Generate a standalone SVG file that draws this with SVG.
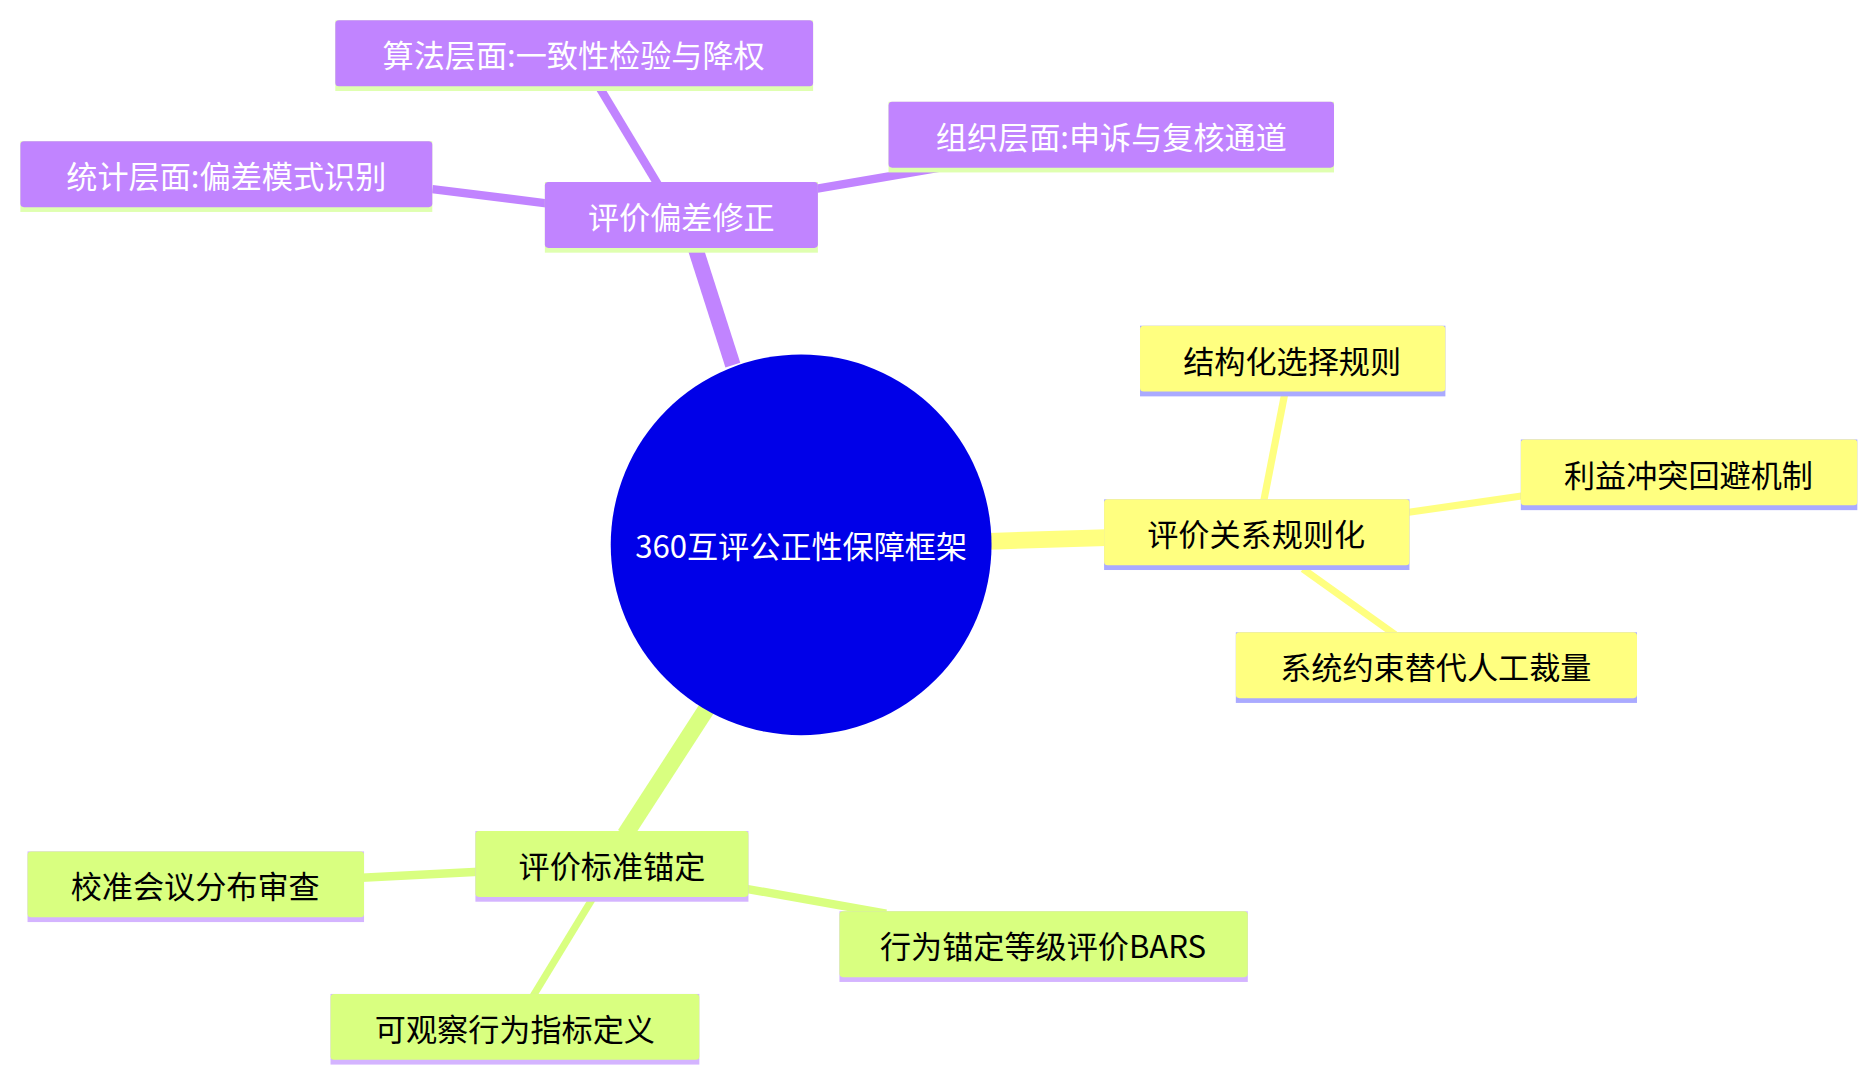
<svg xmlns="http://www.w3.org/2000/svg" width="1868" height="1076" viewBox="0 0 1868 1076">
<style>
text{font-family:"Noto Sans CJK SC","Noto Sans",sans-serif;font-size:26px;text-anchor:middle;dominant-baseline:central}
.p rect.b{fill:#c184ff}.p rect.s{fill:#dfffb0}.p text{fill:#fff}
.y rect.b{fill:#ffff80}.y rect.s{fill:#aaaaff}.y text{fill:#000}
.g rect.b{fill:#d9ff80}.g rect.s{fill:#d4b4ff}.g text{fill:#000}
.cp{stroke:#c184ff}.cy{stroke:#ffff80}.cg{stroke:#d9ff80}
line{stroke-linecap:butt}
</style>
<rect width="1868" height="1076" fill="#fff"/>
<g transform="scale(1.1975)">
<g id="connectors">
<line class="cp" x1="612" y1="305" x2="580" y2="205" stroke-width="13"/>
<line class="cp" x1="550" y1="155" x2="500" y2="72" stroke-width="7"/>
<line class="cp" x1="680" y1="158" x2="785" y2="140" stroke-width="7"/>
<line class="cp" x1="458" y1="170" x2="361" y2="158" stroke-width="7"/>
<line class="cy" x1="826" y1="452" x2="924" y2="449" stroke-width="14"/>
<line class="cy" x1="1055" y1="420" x2="1073" y2="328" stroke-width="6"/>
<line class="cy" x1="1175" y1="428" x2="1272" y2="414" stroke-width="6"/>
<line class="cy" x1="1088" y1="475" x2="1165" y2="530" stroke-width="6"/>
<line class="cg" x1="590" y1="592" x2="522" y2="697" stroke-width="14"/>
<line class="cg" x1="400" y1="728" x2="302" y2="733" stroke-width="7"/>
<line class="cg" x1="622" y1="742" x2="740" y2="763" stroke-width="7"/>
<line class="cg" x1="495" y1="750" x2="445" y2="832" stroke-width="6"/>
</g>
<g id="root"><circle cx="669" cy="455" r="159" fill="#0000e8"/><text x="669" y="455" fill="#fff">360互评公正性保障框架</text></g>
<g id="n1" class="p"><rect class="s" x="455" y="152" width="228" height="59"/><rect class="b" x="455" y="152" width="228" height="55" rx="3"/><text x="569" y="180">评价偏差修正</text></g>
<g id="n1a" class="p"><rect class="s" x="280" y="17" width="399" height="59"/><rect class="b" x="280" y="17" width="399" height="55" rx="3"/><text x="479" y="45">算法层面:一致性检验与降权</text></g>
<g id="n1b" class="p"><rect class="s" x="742" y="85" width="372" height="59"/><rect class="b" x="742" y="85" width="372" height="55" rx="3"/><text x="928" y="113">组织层面:申诉与复核通道</text></g>
<g id="n1c" class="p"><rect class="s" x="17" y="118" width="344" height="59"/><rect class="b" x="17" y="118" width="344" height="55" rx="3"/><text x="189" y="146">统计层面:偏差模式识别</text></g>
<g id="n2" class="y"><rect class="s" x="922" y="417" width="255" height="59"/><rect class="b" x="922" y="417" width="255" height="55" rx="3"/><text x="1049" y="445">评价关系规则化</text></g>
<g id="n2a" class="y"><rect class="s" x="952" y="272" width="255" height="59"/><rect class="b" x="952" y="272" width="255" height="55" rx="3"/><text x="1079" y="300">结构化选择规则</text></g>
<g id="n2b" class="y"><rect class="s" x="1270" y="367" width="281" height="59"/><rect class="b" x="1270" y="367" width="281" height="55" rx="3"/><text x="1410" y="395">利益冲突回避机制</text></g>
<g id="n2c" class="y"><rect class="s" x="1032" y="528" width="335" height="59"/><rect class="b" x="1032" y="528" width="335" height="55" rx="3"/><text x="1199" y="556">系统约束替代人工裁量</text></g>
<g id="n3" class="g"><rect class="s" x="397" y="694" width="228" height="59"/><rect class="b" x="397" y="694" width="228" height="55" rx="3"/><text x="511" y="722">评价标准锚定</text></g>
<g id="n3a" class="g"><rect class="s" x="23" y="711" width="281" height="59"/><rect class="b" x="23" y="711" width="281" height="55" rx="3"/><text x="163" y="739">校准会议分布审查</text></g>
<g id="n3b" class="g"><rect class="s" x="701" y="761" width="341" height="59"/><rect class="b" x="701" y="761" width="341" height="55" rx="3"/><text x="871" y="789">行为锚定等级评价BARS</text></g>
<g id="n3c" class="g"><rect class="s" x="276" y="830" width="308" height="59"/><rect class="b" x="276" y="830" width="308" height="55" rx="3"/><text x="430" y="858">可观察行为指标定义</text></g>
</g>
</svg>
